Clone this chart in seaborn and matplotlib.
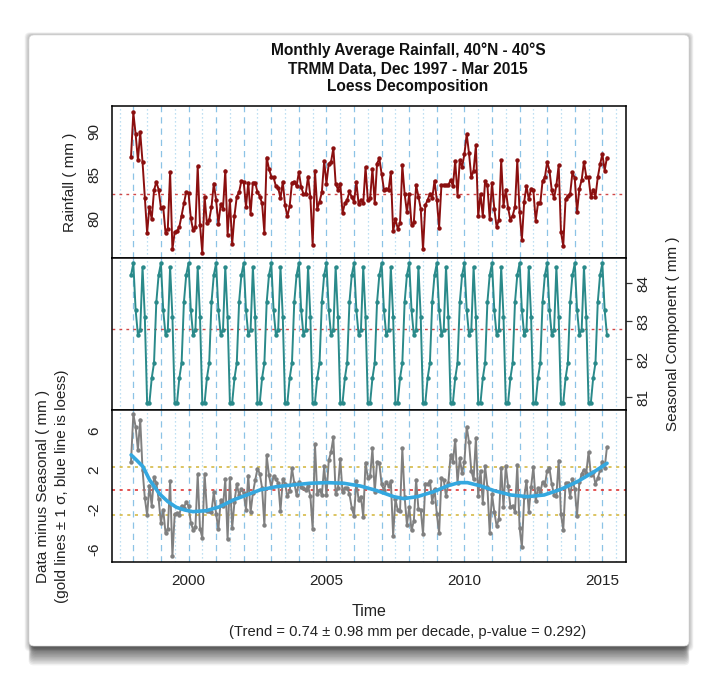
import numpy as np
import seaborn as sns
import matplotlib.pyplot as plt
from matplotlib.patches import FancyBboxPatch

# monthly rainfall (mm), Dec 1997 .. Mar 2015
start_year = 1997 + 11 / 12
rainfall = [
    87.1,
    92.2, 89.7, 86.7, 89.9, 86.5, 82.3, 78.3, 81.3, 79.9, 83.2, 84.2, 83.3,  # 1998
    81.2, 81.3, 78.3, 78.8, 85.3, 76.4, 78.4, 78.5, 79.0, 80.3, 81.7, 83.0,  # 1999
    82.9, 80.0, 78.6, 79.0, 86.0, 79.2, 76.0, 82.5, 79.4, 79.8, 81.3, 84.0,  # 2000
    82.1, 79.3, 81.6, 81.1, 85.5, 78.1, 82.1, 77.0, 80.3, 82.5, 83.0, 84.3,  # 2001
    84.2, 81.3, 84.1, 80.5, 84.1, 84.1, 83.0, 82.5, 81.7, 78.3, 87.0, 85.7,  # 2002
    84.8, 84.7, 83.7, 83.5, 82.3, 84.2, 81.5, 80.2, 81.4, 84.1, 84.2, 83.7,  # 2003
    85.3, 83.6, 82.8, 82.8, 84.8, 82.5, 76.9, 85.5, 81.1, 81.9, 83.0, 86.6,  # 2004
    84.0, 86.3, 86.5, 88.1, 84.0, 83.3, 84.0, 80.6, 81.7, 82.1, 83.1, 82.4,  # 2005
    81.9, 84.2, 81.6, 82.1, 81.7, 85.9, 82.1, 82.3, 85.7, 81.7, 86.3, 86.9,  # 2006
    85.1, 83.3, 83.4, 83.2, 85.3, 78.5, 79.9, 78.8, 79.4, 86.1, 82.8, 80.7,  # 2007
    82.8, 79.2, 79.5, 83.8, 82.5, 81.1, 76.4, 81.5, 82.1, 82.8, 82.3, 84.3,  # 2008
    82.1, 78.9, 83.8, 83.8, 83.8, 83.8, 84.4, 83.7, 86.6, 82.6, 86.7, 85.9,  # 2009
    87.4, 89.7, 87.5, 84.7, 85.5, 88.4, 80.2, 82.8, 80.2, 84.3, 83.8, 79.9,  # 2010
    84.1, 81.1, 79.0, 79.8, 86.7, 81.4, 83.3, 81.2, 79.8, 80.3, 81.3, 86.7,  # 2011
    80.7, 77.5, 81.9, 83.7, 82.2, 83.4, 83.2, 79.7, 81.7, 81.7, 84.3, 84.7,  # 2012
    86.5, 85.5, 83.2, 82.3, 83.8, 86.1, 78.4, 76.8, 82.2, 82.6, 82.8, 85.3,  # 2013
    84.6, 80.7, 83.4, 84.4, 86.5, 84.8, 84.7, 82.4, 83.3, 82.5, 84.7, 86.2,  # 2014
    87.4, 85.5, 87.0,                                                        # 2015
]

# seasonal component, Jan .. Dec
seasonal_cycle = [84.53, 83.30, 82.64, 82.77, 84.43, 83.12,
                  80.85, 80.85, 81.50, 81.90, 83.50, 84.22]

# loess curve of the deseasonalised series
loess_time = [1997.92, 1998.11, 1998.35, 1998.59, 1998.95, 1999.25, 1999.56,
              1999.86, 2000.16, 2000.65, 2001.13, 2001.62, 2002.11, 2002.59,
              2003.20, 2003.80, 2004.41, 2005.01, 2005.62, 2006.23, 2006.83,
              2007.44, 2007.80, 2008.29, 2008.89, 2009.38, 2009.80, 2010.11,
              2010.59, 2011.07, 2011.68, 2012.29, 2012.89, 2013.50, 2014.10,
              2014.71, 2015.17]
loess_vals = [3.55, 3.04, 2.36, 1.01, -0.40, -1.18, -1.76,
              -2.03, -2.20, -2.10, -1.70, -1.02, -0.51, 0.00,
              0.34, 0.51, 0.68, 0.74, 0.68, 0.40, -0.07,
              -0.68, -0.88, -0.68, -0.17, 0.41, 0.74, 0.74,
              0.41, -0.07, -0.51, -0.68, -0.51, 0.07, 0.85,
              1.86, 2.70]

mean_rain = 82.8
sigma_hi, sigma_lo = 2.36, -2.53

titles = ["Monthly Average Rainfall, 40\u00b0N - 40\u00b0S",
          "TRMM Data, Dec 1997 - Mar 2015",
          "Loess Decomposition"]
trend_note = "(Trend = 0.74 \u00b1 0.98 mm per decade, p-value = 0.292)"

rain = np.array(rainfall)
time = start_year + np.arange(len(rain)) / 12
month_idx = (11 + np.arange(len(rain))) % 12
seasonal = np.array(seasonal_cycle)[month_idx]
deseason = rain - seasonal

sns.set_theme(style="white")
plt.rcParams["font.family"] = ["Liberation Sans", "DejaVu Sans"]

W, H = 717, 683
fig = plt.figure(figsize=(W / 100, H / 100), dpi=100)
fig.patch.set_facecolor("white")


def fx(x):
    return x / W


def fy(y):
    return 1 - y / H


def box(x0, y0, x1, y1, **kw):
    # rounded rectangle given in pixel coords (y downwards)
    p = FancyBboxPatch((x0 / 100, (H - y1) / 100), (x1 - x0) / 100, (y1 - y0) / 100,
                       boxstyle="round,pad=0,rounding_size=0.05",
                       transform=fig.dpi_scale_trans, **kw)
    fig.add_artist(p)


# card with soft shadow
cx0, cy0, cx1, cy1 = 29, 35, 689, 646
for k in range(10):
    box(cx0 - k * 0.5, cy0 - k * 0.3, cx1 + k * 0.5, cy1 + k * 0.6,
        facecolor="black", edgecolor="none", alpha=0.03, zorder=-11)
for k in range(12):
    box(cx0 + 4 - k * 0.4, cy0 + 10, cx1 - 4 + k * 0.4, cy1 + 4 + k * 1.4,
        facecolor="black", edgecolor="none", alpha=0.06, zorder=-10)
box(cx0, cy0, cx1, cy1, facecolor="white", edgecolor="#dddddd",
    linewidth=0.5, zorder=-9)

left, right = 112, 626
panel_h = 152
tops = [106, 258, 410]
axes = [fig.add_axes([fx(left), fy(t + panel_h), fx(right - left), panel_h / H])
        for t in tops]
ax_top, ax_mid, ax_bot = axes

xlim = (1997.227, 2015.857)
for ax in axes:
    ax.set_facecolor("white")
    ax.set_xlim(*xlim)
    for yr in np.arange(1998, 2016):
        ax.axvline(yr, color="#8cc3e6", lw=0.9, ls=(0, (5, 4)), zorder=1)
    for yr in np.arange(1997.5, 2016):
        ax.axvline(yr, color="#a9d5ee", lw=0.9, ls=(0, (1, 2.2)), zorder=1)
    for s in ax.spines.values():
        s.set_color("black")
        s.set_linewidth(1.1)
    ax.tick_params(axis="both", direction="out", length=4.5, width=0.9,
                   color="#333333", labelsize=11, labelcolor="#222222", pad=3)
    ax.grid(False)

# top: rainfall
ax_top.axhline(mean_rain, color="#d04848", lw=1.0, ls=(0, (2, 3)), zorder=2)
sns.lineplot(x=time, y=rain, ax=ax_top, color="#8b0f0f", lw=1.4,
             marker="o", markersize=3.2, markeredgewidth=0, zorder=3)
ax_top.set_ylim(75.4, 92.95)
ax_top.set_yticks([80, 85, 90])
ax_top.set_yticklabels(["80", "85", "90"], rotation=90, va="center")
ax_top.set_xticks([])

# middle: seasonal component
ax_mid.axhline(mean_rain, color="#d04848", lw=1.0, ls=(0, (2, 3)), zorder=2)
sns.lineplot(x=time, y=seasonal, ax=ax_mid, color="#2a8a8a", lw=1.4,
             marker="o", markersize=3.2, markeredgewidth=0, zorder=3)
ax_mid.set_ylim(80.66, 84.67)
ax_mid.yaxis.tick_right()
ax_mid.set_yticks([81, 82, 83, 84])
ax_mid.set_yticklabels(["81", "82", "83", "84"], rotation=90, va="center")
ax_mid.set_xticks([])

# bottom: data minus seasonal
ax_bot.axhline(0, color="#dd2424", lw=1.1, ls=(0, (2, 3)), zorder=2)
ax_bot.axhline(sigma_hi, color="#d2b437", lw=1.1, ls=(0, (2, 3)), zorder=2)
ax_bot.axhline(sigma_lo, color="#d2b437", lw=1.1, ls=(0, (2, 3)), zorder=2)
sns.lineplot(x=time, y=deseason, ax=ax_bot, color="#808080", lw=1.4,
             marker="o", markersize=3.2, markeredgewidth=0, zorder=3)
sns.lineplot(x=loess_time, y=loess_vals, ax=ax_bot, color="#34a8e0", lw=2.6,
             zorder=4)
ax_bot.set_ylim(-7.3, 8.1)
ax_bot.set_yticks([-6, -4, -2, 0, 2, 4, 6])
ax_bot.set_yticklabels(["-6", "", "-2", "", "2", "", "6"], rotation=90, va="center")
ax_bot.set_xticks([2000, 2005, 2010, 2015])
ax_bot.set_xticklabels(["2000", "2005", "2010", "2015"])
ax_bot.tick_params(axis="x", pad=4)

for ax in axes:
    ax.set_xlabel("")
    ax.set_ylabel("")

# texts
mid_x = fx((left + right) / 2)
for t, y in zip(titles, [50, 69, 87]):
    fig.text(fx(408), fy(y), t, ha="center", va="center", fontsize=11.2,
             fontweight="bold", color="#111111")
fig.text(fx(70), fy(182), "Rainfall ( mm )", rotation=90, ha="center",
         va="center", fontsize=11, color="#222222")
fig.text(fx(673), fy(334), "Seasonal Component ( mm )", rotation=90,
         ha="center", va="center", fontsize=11, color="#222222")
fig.text(fx(43), fy(486), "Data minus Seasonal ( mm )", rotation=90,
         ha="center", va="center", fontsize=11, color="#222222")
fig.text(fx(62), fy(486), "(gold lines \u00b1 1 \u03c3, blue line is loess)",
         rotation=90, ha="center", va="center", fontsize=11, color="#222222")
fig.text(mid_x, fy(611), "Time", ha="center", va="center", fontsize=11.5,
         color="#222222")
fig.text(fx(408), fy(632), trend_note, ha="center", va="center", fontsize=10.6,
         color="#222222")

fig.savefig("out.png", dpi=100)
